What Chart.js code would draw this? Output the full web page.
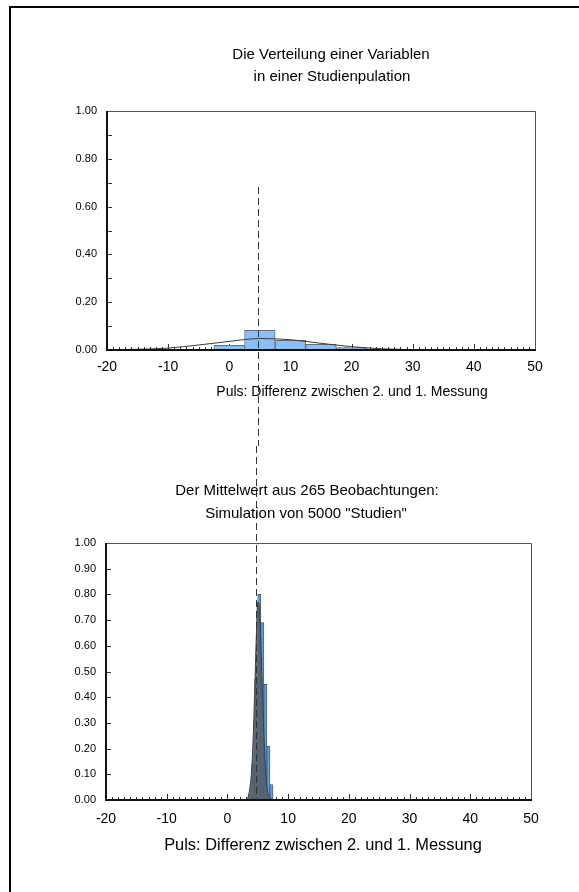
<!DOCTYPE html>
<html>
<head>
<meta charset="utf-8">
<script src="https://cdn.jsdelivr.net/npm/chart.js@4.4.1/dist/chart.umd.min.js"></script>
<style>
  html, body { margin: 0; padding: 0; background: #fff; overflow: hidden; }
  body { width: 579px; height: 892px; position: relative; }
  .frame { position: absolute; left: 9px; top: 6px; width: 700px; height: 1000px; border: 2px solid #000; }
  canvas { position: absolute; left: 0; }
  #topChart { top: 0; }
  #bottomChart { top: 446px; }
</style>
</head>
<body>
<div class="frame"></div>
<canvas id="topChart" width="579" height="446"></canvas>
<canvas id="bottomChart" width="579" height="446"></canvas>
<script>
// tick labels
const xTicks = [-20, -10, 0, 10, 20, 30, 40, 50];
const yTicksTop = [0, 0.2, 0.4, 0.6, 0.8, 1.0];
const yTicksBottom = [0, 0.1, 0.2, 0.3, 0.4, 0.5, 0.6, 0.7, 0.8, 0.9, 1.0];

// top panel: distribution in the study population (bins of width 5)
const popBins = [-10, -5, 0, 5, 10, 15, 20, 25, 30, 35, 40, 45];
const popDensity = [0.001, 0.002, 0.020, 0.082, 0.040, 0.024, 0.010, 0.004, 0.002, 0.001, 0.001, 0.002];

// top panel: fitted normal curve
const curveX = [-20, -15, -10, -5, 0, 5, 10, 15, 20, 25, 30, 35, 40, 45, 50];
const curveY = [0.001, 0.003, 0.008, 0.021, 0.036, 0.048, 0.043, 0.028, 0.014, 0.005, 0.0015, 0.0005, 0, 0, 0];

// bottom panel: means of 265 observations, 5000 simulated studies (bins of width 0.5)
const meanBins = [3.75, 4.25, 4.75, 5.25, 5.75, 6.25, 6.75, 7.25];
const meanDensity = [0.02, 0.14, 0.47, 0.80, 0.69, 0.45, 0.21, 0.06];

// bottom panel: overlaid density of the simulated means (grey area)
const simX = [3.0, 3.5, 4.0, 4.25, 4.5, 4.75, 5.0, 5.25, 5.5, 5.75, 6.0, 6.25, 6.5, 7.0, 7.5];
const simY = [0, 0.02, 0.12, 0.25, 0.43, 0.63, 0.77, 0.75, 0.61, 0.43, 0.26, 0.13, 0.05, 0.01, 0];

// population mean (dashed line)
const popMean = 4.75;

Chart.defaults.font.family = '"Liberation Sans", Arial, sans-serif';
Chart.defaults.color = '#000';

// inward tick marks and plot box
const axisFrame = {
    id: 'axisFrame',
    beforeDatasetsDraw(chart, args, opts) {
        const {ctx, chartArea: a, scales: {x, y}} = chart;
        ctx.save();
        ctx.strokeStyle = '#333';
        ctx.lineWidth = 1;
        ctx.beginPath();
        for (let i = x.min; i <= x.max; i++) {
            const px = Math.round(x.getPixelForValue(i)) + 0.5;
            const len = i % 10 === 0 ? 6 : 3;
            ctx.moveTo(px, a.bottom);
            ctx.lineTo(px, a.bottom - len);
        }
        const n = Math.round((y.max - y.min) / opts.yMinor);
        for (let k = 0; k <= n; k++) {
            const py = Math.round(y.getPixelForValue(y.min + k * opts.yMinor)) + 0.5;
            ctx.moveTo(a.left, py);
            ctx.lineTo(a.left + 5, py);
        }
        ctx.stroke();
        ctx.restore();
    },
    afterDatasetsDraw(chart) {
        const {ctx, chartArea: a} = chart;
        ctx.save();
        ctx.strokeStyle = '#555';
        ctx.lineWidth = 1;
        ctx.beginPath();
        ctx.moveTo(a.left, a.top + 0.5);
        ctx.lineTo(a.right + 0.5, a.top + 0.5);
        ctx.lineTo(a.right + 0.5, a.bottom);
        ctx.stroke();
        ctx.strokeStyle = '#111';
        ctx.lineWidth = 2;
        ctx.beginPath();
        ctx.moveTo(a.left, a.top);
        ctx.lineTo(a.left, a.bottom);
        ctx.lineTo(a.right + 1, a.bottom);
        ctx.stroke();
        ctx.restore();
    }
};

// dashed vertical line at the population mean
const meanLine = {
    id: 'meanLine',
    afterDatasetsDraw(chart, args, opts) {
        const {ctx, scales: {x}} = chart;
        const px = Math.round(x.getPixelForValue(opts.value)) + 0.5;
        ctx.save();
        ctx.strokeStyle = '#333';
        ctx.lineWidth = 1;
        ctx.setLineDash([7, 4]);
        ctx.beginPath();
        ctx.moveTo(px, opts.from);
        ctx.lineTo(px, opts.to);
        ctx.stroke();
        ctx.restore();
    }
};

// titles and axis captions
const captions = {
    id: 'captions',
    afterDraw(chart, args, opts) {
        const ctx = chart.ctx;
        ctx.save();
        ctx.fillStyle = '#000';
        ctx.textAlign = 'center';
        ctx.textBaseline = 'middle';
        opts.lines.forEach(l => {
            ctx.font = l.size + 'px "Liberation Sans", Arial, sans-serif';
            ctx.fillText(l.text, l.x, l.y);
        });
        ctx.restore();
    }
};

function hatch(base, dot) {
    const c = document.createElement('canvas');
    c.width = 4;
    c.height = 4;
    const g = c.getContext('2d');
    g.fillStyle = base;
    g.fillRect(0, 0, 4, 4);
    g.fillStyle = dot;
    g.fillRect(0, 0, 1, 1);
    g.fillRect(2, 2, 1, 1);
    return g.createPattern(c, 'repeat');
}

function points(xs, ys) {
    return xs.map((x, i) => ({x: x, y: ys[i]}));
}

function panelOptions(pad, yTicks, texts, dash, labelPad) {
    return {
        responsive: false,
        animation: false,
        layout: { padding: pad },
        plugins: {
            legend: { display: false },
            tooltip: { enabled: false },
            captions: { lines: texts },
            meanLine: dash,
            axisFrame: { yMinor: 0.1 }
        },
        scales: {
            x: {
                type: 'linear', min: -20, max: 50, offset: false,
                afterBuildTicks: s => { s.ticks = xTicks.map(v => ({value: v})); },
                afterFit: s => { s.height = 40; },
                grid: { display: false, drawTicks: false },
                border: { display: false },
                ticks: { font: { size: 14 }, padding: labelPad, maxRotation: 0, autoSkip: false, callback: v => String(v) }
            },
            y: {
                min: 0, max: 1,
                afterBuildTicks: s => { s.ticks = yTicks.map(v => ({value: v})); },
                afterFit: s => { s.width = 60; },
                grid: { display: false, drawTicks: false },
                border: { display: false },
                ticks: { font: { size: 11 }, padding: 10, callback: v => Number(v).toFixed(2) }
            }
        }
    };
}

new Chart(document.getElementById('topChart'), {
    type: 'bar',
    data: {
        datasets: [{
            type: 'line',
            data: points(curveX, curveY),
            borderColor: '#3a3a3a',
            borderWidth: 1,
            pointRadius: 0,
            cubicInterpolationMode: 'monotone',
            order: 0
        }, {
            data: points(popBins, popDensity),
            backgroundColor: hatch('#8cc2f8', '#72aee9'),
            borderColor: '#6e6e6e',
            borderWidth: 1,
            grouped: false,
            barPercentage: 1,
            categoryPercentage: 1,
            order: 1
        }]
    },
    options: panelOptions(
        { left: 47, right: 44, top: 111, bottom: 56 },
        yTicksTop,
        [
            { text: 'Die Verteilung einer Variablen', x: 331, y: 55, size: 15 },
            { text: 'in einer Studienpulation', x: 332, y: 77, size: 15 },
            { text: 'Puls: Differenz zwischen 2. und 1. Messung', x: 352, y: 392, size: 14 }
        ],
        { value: popMean, from: 187, to: 446 },
        9
    ),
    plugins: [axisFrame, meanLine, captions]
});

new Chart(document.getElementById('bottomChart'), {
    type: 'bar',
    data: {
        datasets: [{
            type: 'line',
            data: points(simX, simY),
            borderColor: '#3a3d42',
            borderWidth: 1,
            backgroundColor: 'rgba(88, 94, 102, 0.88)',
            fill: 'origin',
            pointRadius: 0,
            cubicInterpolationMode: 'monotone',
            order: 0
        }, {
            data: points(meanBins, meanDensity),
            backgroundColor: '#5d9fe6',
            borderColor: '#34506f',
            borderWidth: 0.8,
            grouped: false,
            barPercentage: 1,
            categoryPercentage: 1,
            order: 1
        }]
    },
    options: panelOptions(
        { left: 46, right: 48, top: 97, bottom: 52 },
        yTicksBottom,
        [
            { text: 'Der Mittelwert aus 265 Beobachtungen:', x: 307, y: 45, size: 15 },
            { text: 'Simulation von 5000 "Studien"', x: 306, y: 68, size: 15 },
            { text: 'Puls: Differenz zwischen 2. und 1. Messung', x: 323, y: 399, size: 16.4 }
        ],
        { value: popMean, from: 0, to: 354 },
        11
    ),
    plugins: [axisFrame, meanLine, captions]
});
</script>
</body>
</html>
